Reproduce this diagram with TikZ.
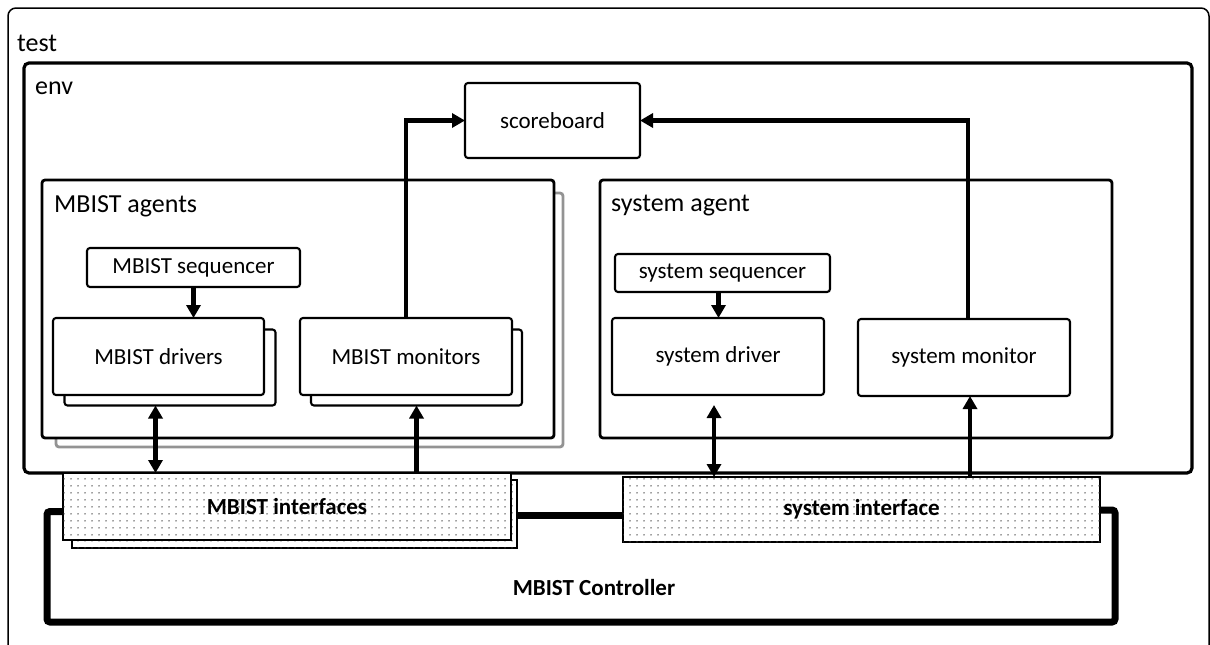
\documentclass[tikz,border=0pt]{standalone}
\usepackage{fontspec}
\setmainfont{Carlito}
\usetikzlibrary{arrows.meta,patterns.meta}
\tikzset{
  frame/.style={draw, line width=1.5pt, rounded corners=8pt},
  envbox/.style={draw, line width=3.2pt, rounded corners=5pt},
  agentbox/.style={draw, line width=2.8pt, rounded corners=3pt, fill=white},
  agentshadow/.style={draw=gray!85, line width=2.8pt, rounded corners=3pt},
  unit/.style={draw, line width=2.1pt, rounded corners=3pt, fill=white,
    inner sep=0pt, outer sep=0pt, font=\fontsize{23}{27}\selectfont},
  ifbox/.style={draw, line width=1.6pt, fill=white, inner sep=0pt, outer sep=0pt,
    postaction={pattern={Dots[distance=6.5pt,radius=0.8pt]}, pattern color=black!75},
    font=\bfseries\fontsize{23}{27}\selectfont},
  lbl/.style={anchor=west, inner sep=0pt, font=\fontsize{26}{30}\selectfont},
  arr/.style={line width=4.4pt, -{Triangle[length=13pt,width=14pt]}},
  dbl/.style={line width=4.4pt, {Triangle[length=13pt,width=14pt]}-{Triangle[length=13pt,width=14pt]}},
  ctl/.style={line width=7pt, rounded corners=3pt},
}
\begin{document}
\begin{tikzpicture}[x=1pt,y=-1pt]
\useasboundingbox (0,0) rectangle (1210,645);
\begin{scope}
\clip (0,0) rectangle (1210,645);
% outer test frame (continues past the page edge)
\draw[frame] (8,8) rectangle (1209,700);
\end{scope}
\node[lbl] (testlbl) at (17,43) {test};

% environment
\draw[envbox] (24,63) rectangle (1192,473);
\node[lbl] (envlbl) at (35,88) {env};

% scoreboard
\node[unit, minimum width=175, minimum height=75] (score) at (552.5,120.5) {scoreboard};

% MBIST agents (stacked)
\draw[agentshadow] (56,193) rectangle (563,447);
\draw[agentbox] (42,180) rectangle (554,438);
\node[lbl] (mbagl) at (54,206) {MBIST agents};

\node[unit, minimum width=213, minimum height=39] (mbseq) at (193.5,267.5) {MBIST sequencer};
\node[unit, minimum width=211, minimum height=76] (mbdrvb) at (170,367.5) {};
\node[unit, minimum width=211, minimum height=77] (mbdrv) at (158.5,356.5) {MBIST drivers};
\node[unit, minimum width=211, minimum height=76] (mbmonb) at (416.5,367.5) {};
\node[unit, minimum width=212, minimum height=77] (mbmon) at (406,356.5) {MBIST monitors};

% system agent
\draw[agentbox] (600,180) rectangle (1112,438);
\node[lbl] (sysagl) at (611,206) {system agent};

\node[unit, minimum width=215, minimum height=38] (sysseq) at (722.5,273) {system sequencer};
\node[unit, minimum width=212, minimum height=77] (sysdrv) at (718,356.5) {system driver};
\node[unit, minimum width=212, minimum height=77] (sysmon) at (964,357.5) {system monitor};

% interfaces
\node[ifbox, minimum width=445, minimum height=68] (mbifb) at (294.5,514) {};
\node[ifbox, minimum width=448, minimum height=67] (mbif) at (287,506.5) {MBIST interfaces};
\node[ifbox, minimum width=477, minimum height=65] (sysif) at (861.5,509.5) {system interface};

% MBIST controller loop
\coordinate (ctlL) at (47,622);
\coordinate (ctlR) at (1115,510);
\draw[ctl] ([yshift=-5pt]mbif.west) -| (ctlL) -| (ctlR) -- (sysif.east |- ctlR);
\draw[line width=7pt] ([yshift=-1pt]mbifb.east) -- ([yshift=-1pt]mbifb.east -| sysif.west);
\node[font=\bfseries\fontsize{23}{27}\selectfont] (ctllbl) at (594,588) {MBIST Controller};

% connectors
\draw[arr] (mbseq.south) -- (mbseq.south |- mbdrv.north);
\draw[arr] ([xshift=-4pt]sysseq.south) -- ([xshift=-4pt]sysseq.south |- sysdrv.north);
\draw[arr] (mbmon.north) |- (score.west);
\draw[arr] ([xshift=4pt]sysmon.north) |- (score.east);
\draw[dbl] ([xshift=-3pt]mbdrv.south |- mbdrvb.south) -- ([xshift=-3pt]mbdrv.south |- mbif.north);
\draw[arr] (mbif.north -| mbmonb.south) -- (mbmonb.south);
\draw[dbl] ([xshift=-4pt,yshift=-10pt]sysdrv.south) -- ([xshift=-4pt]sysdrv.south |- sysif.north);
\draw[arr] ([xshift=6pt]sysmon.south |- sysif.north) -- ([xshift=6pt]sysmon.south);
\end{tikzpicture}
\end{document}
